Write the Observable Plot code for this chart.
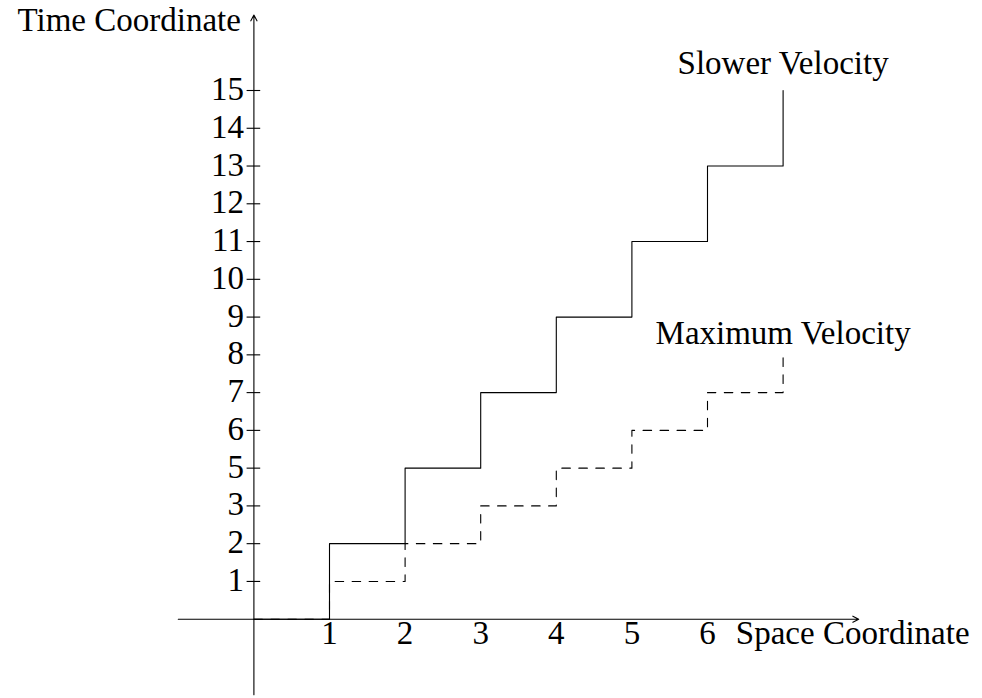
<!DOCTYPE html>
<html>
<head>
<meta charset="utf-8">
<script src="https://cdn.jsdelivr.net/npm/d3@7"></script>
<script src="https://cdn.jsdelivr.net/npm/@observablehq/plot@0.6"></script>
<style>
  html, body { margin: 0; padding: 0; background: #fff; }
  #chart svg { display: block; }
</style>
</head>
<body>
<div id="chart"></div>
<script>
// Space coordinate steps (x) and the positions reached along the time axis (y, in tick positions)
const spaceSteps = [0, 1, 2, 3, 4, 5, 6, 7];
const slowerTime = [0, 2, 4, 6, 8, 10, 12, 14];
const maximumTime = [0, 1, 2, 3, 4, 5, 6, 7];

// Axis ticks as drawn in the reference (note: label "4" is absent)
const xTickValues = [1, 2, 3, 4, 5, 6];
const yTickPositions = [1, 2, 3, 4, 5, 6, 7, 8, 9, 10, 11, 12, 13, 14];
const yTickLabels = ["1", "2", "3", "5", "6", "7", "8", "9", "10", "11", "12", "13", "14", "15"];

const slower = spaceSteps.map((x, i) => ({x, y: slowerTime[i]}));
const maximum = spaceSteps.map((x, i) => ({x, y: maximumTime[i]}));
const yTicks = yTickPositions.map((p, i) => ({p, label: yTickLabels[i]}));

const font = "'Liberation Serif', 'Times New Roman', serif";

const chart = Plot.plot({
  width: 982,
  height: 698,
  margin: 0,
  style: {fontFamily: font, fontSize: "33px", background: "#fff", color: "#000"},
  x: {domain: [0, 7], range: [253.4, 782.6], axis: null},
  y: {domain: [0, 14], range: [618.7, 90], axis: null},
  marks: [
    // axes with arrow heads
    Plot.arrow([{x1: -1, y1: 0, x2: 8, y2: 0}], {
      x1: "x1", y1: "y1", x2: "x2", y2: "y2",
      stroke: "#000", strokeWidth: 1.1, headLength: 9, headAngle: 55
    }),
    Plot.arrow([{x1: 0, y1: -2, x2: 0, y2: 16}], {
      x1: "x1", y1: "y1", x2: "x2", y2: "y2",
      stroke: "#000", strokeWidth: 1.1, headLength: 9, headAngle: 55
    }),
    // y tick marks
    Plot.ruleY(yTicks, {y: "p", x1: -0.09, x2: 0.09, stroke: "#000", strokeWidth: 1.1}),
    // y tick labels
    Plot.text(yTicks, {x: 0, y: "p", text: "label", textAnchor: "end", dx: -10, dy: -1, fill: "#000"}),
    // x tick labels
    Plot.text(xTickValues, {x: d => d, y: 0, text: d => String(d), lineAnchor: "top", dy: 1, fill: "#000"}),
    // step lines
    Plot.line(maximum, {x: "x", y: "y", curve: "step-after", stroke: "#000", strokeWidth: 1.1, strokeDasharray: "8.5,8.5"}),
    Plot.line(slower, {x: "x", y: "y", curve: "step-after", stroke: "#000", strokeWidth: 1.1}),
    // axis titles
    Plot.text(["Time Coordinate"], {x: 0, y: 16, text: d => d, textAnchor: "end", lineAnchor: "bottom", dy: 16, dx: -13, fill: "#000"}),
    Plot.text(["Space Coordinate"], {x: 8, y: 0, text: d => d, lineAnchor: "top", dy: 1, dx: -6, fill: "#000"}),
    // series labels
    Plot.text(["Slower Velocity"], {x: 7, y: 14, text: d => d, lineAnchor: "bottom", dy: -17, fill: "#000"}),
    Plot.text(["Maximum Velocity"], {x: 7, y: 7, text: d => d, lineAnchor: "bottom", dy: -11, fill: "#000"})
  ]
});

document.getElementById("chart").append(chart);
</script>
</body>
</html>
